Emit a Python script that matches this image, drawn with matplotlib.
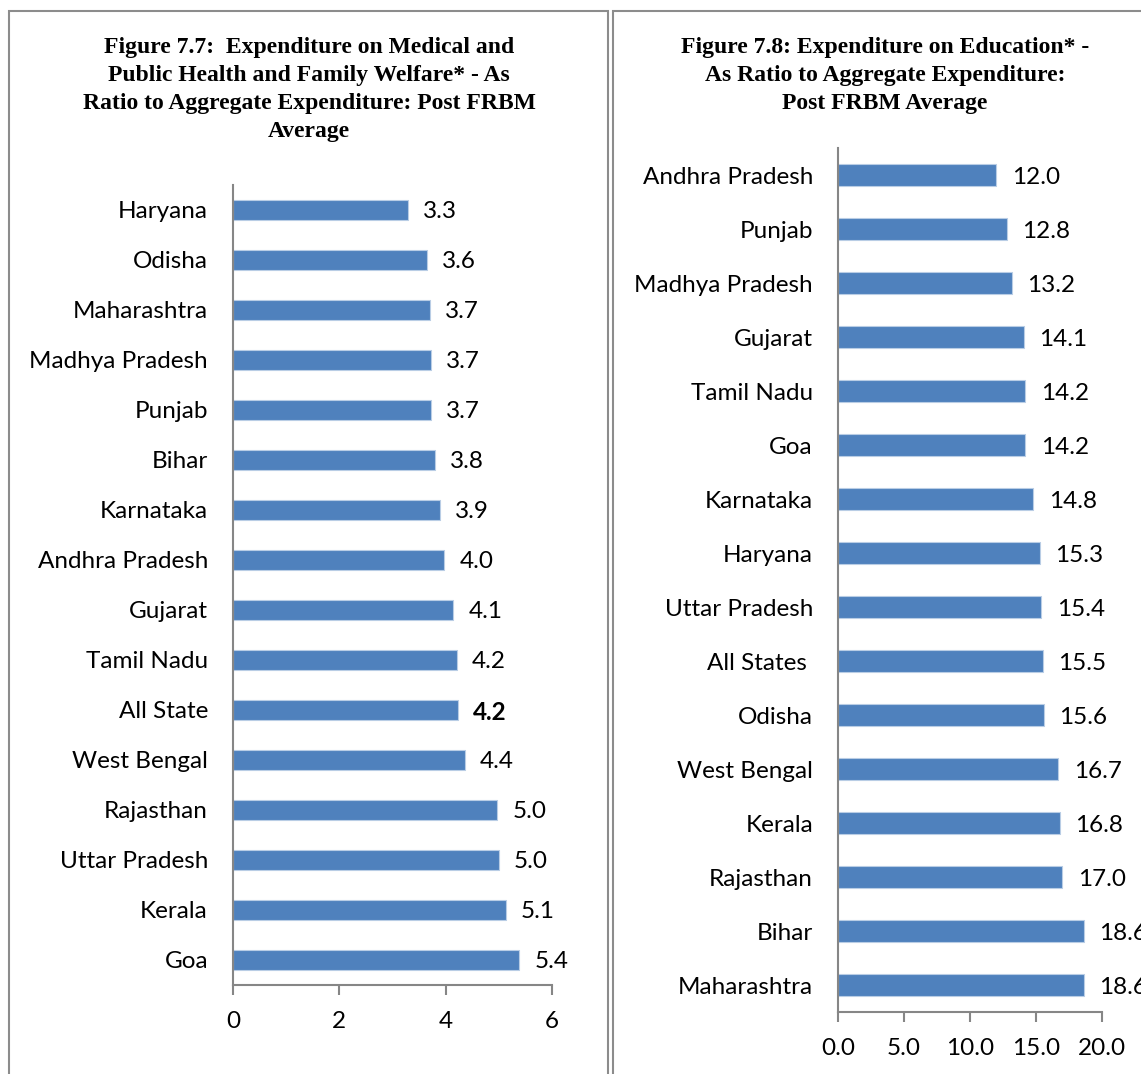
import matplotlib
matplotlib.use("Agg")
import matplotlib.pyplot as plt
from matplotlib.patches import Rectangle

# Figure 7.7 - medical & public health, top to bottom
health_states = ["Haryana", "Odisha", "Maharashtra", "Madhya Pradesh", "Punjab", "Bihar",
                 "Karnataka", "Andhra Pradesh", "Gujarat", "Tamil Nadu", "All State",
                 "West Bengal", "Rajasthan", "Uttar Pradesh", "Kerala", "Goa"]
health_vals = [3.29, 3.64, 3.70, 3.72, 3.72, 3.80, 3.89, 3.97, 4.14, 4.21, 4.23,
               4.36, 4.97, 5.00, 5.13, 5.38]

# Figure 7.8 - education, top to bottom
edu_states = ["Andhra Pradesh", "Punjab", "Madhya Pradesh", "Gujarat", "Tamil Nadu", "Goa",
              "Karnataka", "Haryana", "Uttar Pradesh", "All States ", "Odisha",
              "West Bengal", "Kerala", "Rajasthan", "Bihar", "Maharashtra"]
edu_vals = [12.0, 12.8, 13.2, 14.1, 14.2, 14.2, 14.8, 15.3, 15.4, 15.5, 15.6,
            16.7, 16.8, 17.0, 18.6, 18.6]

W, H = 1141, 1074
BAR = "#4F81BD"
AXC = "#868686"
SANS = ["Lato", "DejaVu Sans"]
SERIF = "Liberation Serif"
FS = 17.5

fig = plt.figure(figsize=(W / 100, H / 100), dpi=100)

# panel borders
for x0, x1 in [(9, 608), (613, 1160)]:
    fig.patches.append(Rectangle((x0 / W, -0.05), (x1 - x0) / W, (1074 - 11) / H + 0.05,
                                 transform=fig.transFigure, fill=False,
                                 edgecolor="#8c8c8c", lw=1.5))

def px_axes(x0, x1, y0, y1):
    return fig.add_axes([x0 / W, (H - y1) / H, (x1 - x0) / W, (y1 - y0) / H])

def draw(ax, names, vals, xmax, step, fmt, bold_idx, bh):
    y = list(range(len(names)))
    ax.barh(y, vals, height=bh, color=BAR, edgecolor="#b9cde5", lw=0.8)
    ax.set_ylim(len(names) - 0.5, -0.5)
    ax.set_xlim(0, xmax)
    ax.set_yticks(y)
    ax.set_yticklabels(names, fontsize=FS, family=SANS)
    n = int(round(xmax / step)) + 1
    ax.set_xticks([i * step for i in range(n)])
    ax.set_xticklabels([fmt.format(i * step) for i in range(n)], fontsize=FS, family=SANS)
    ax.tick_params(axis="y", length=0, pad=18)
    ax.tick_params(axis="x", length=7, color=AXC, width=1.5, pad=12)
    for s in ["top", "right"]:
        ax.spines[s].set_visible(False)
    for s in ["left", "bottom"]:
        ax.spines[s].set_color(AXC)
        ax.spines[s].set_linewidth(1.5)
    for i, v in enumerate(vals):
        ax.annotate("{:.1f}".format(v), (v, i), xytext=(11, 0), textcoords="offset points",
                    va="center_baseline", ha="left", fontsize=FS, family=SANS,
                    fontweight="bold" if i == bold_idx else "normal", annotation_clip=False)

ax1 = px_axes(233, 552, 185, 985)
draw(ax1, health_states, health_vals, 6, 2, "{:.0f}", 10, 0.4)

ax2 = px_axes(838, 1102, 148, 1012)
draw(ax2, edu_states, edu_vals, 20, 5, "{:.1f}", -1, 0.41)

fig.text(309 / W, 1 - 37 / H,
         "Figure 7.7:  Expenditure on Medical and\nPublic Health and Family Welfare* - As\n"
         "Ratio to Aggregate Expenditure: Post FRBM\nAverage",
         ha="center", va="top", fontsize=17, fontweight="bold", family=SERIF, linespacing=1.43)
fig.text(885 / W, 1 - 37 / H,
         "Figure 7.8: Expenditure on Education* -\nAs Ratio to Aggregate Expenditure:\n"
         "Post FRBM Average",
         ha="center", va="top", fontsize=17, fontweight="bold", family=SERIF, linespacing=1.43)

fig.savefig("out.png", dpi=100)
